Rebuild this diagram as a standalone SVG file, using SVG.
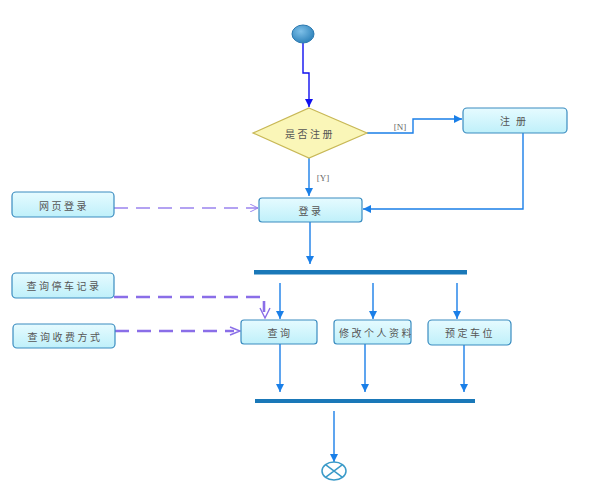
<svg xmlns="http://www.w3.org/2000/svg" width="590" height="493" viewBox="0 0 590 493">
<style>
.box{fill:url(#g);stroke:#3a8cc0;stroke-width:1.2}
.t{font-family:"Noto Sans CJK SC","Noto Sans",sans-serif;font-size:10px;letter-spacing:2.5px;fill:#555;text-anchor:middle;dominant-baseline:central}
.lbl{font-family:"Liberation Serif",serif;font-size:9px;fill:#666;text-anchor:middle}
.fl{fill:none;stroke:#1a7fe8;stroke-width:1.4}
.dash{fill:none;stroke:#9a84ee;stroke-width:1.6;stroke-dasharray:14,8}
.dash2{fill:none;stroke:#8a6ee8;stroke-width:2.6;stroke-dasharray:14,8}
.bar{fill:#1a78b8}
</style>
<defs>
<linearGradient id="g" x1="0" y1="0" x2="0" y2="1"><stop offset="0" stop-color="#e6fbff"/><stop offset="1" stop-color="#bff0fa"/></linearGradient>
<radialGradient id="sg" cx="0.4" cy="0.35" r="0.7"><stop offset="0" stop-color="#7ec0e8"/><stop offset="1" stop-color="#2a7fb8"/></radialGradient>
<marker id="a" viewBox="0 0 10 10" refX="10" refY="5" markerWidth="8" markerHeight="10" orient="auto" markerUnits="userSpaceOnUse"><path d="M0,0L10,5L0,10z" fill="#1a7fe8"/></marker>
<marker id="ab" viewBox="0 0 10 10" refX="10" refY="5" markerWidth="8" markerHeight="12" orient="auto" markerUnits="userSpaceOnUse"><path d="M0,0L10,5L0,10z" fill="#1010f0"/></marker>
<marker id="o" viewBox="0 0 10 10" refX="10" refY="5" markerWidth="12" markerHeight="8" orient="auto" markerUnits="userSpaceOnUse"><path d="M0,0L10,5L0,10" fill="none" stroke="#9a84ee" stroke-width="1.2"/></marker>
<clipPath id="c1"><rect x="334" y="320" width="77" height="24"/></clipPath>
</defs>
<g id="connectors">
<path d="M303,43V73H309V107" fill="none" stroke="#1010f0" stroke-width="1.4" marker-end="url(#ab)"/>
<path class="fl" d="M367,133H413V119H462" marker-end="url(#a)"/>
<text class="lbl" x="400" y="130">[N]</text>
<path class="fl" d="M309,158V196" marker-end="url(#a)"/>
<text class="lbl" x="323" y="181">[Y]</text>
<path class="fl" d="M523,133V209H363" marker-end="url(#a)"/>
<path class="dash" d="M114,208H258" marker-end="url(#o)"/>
<path class="fl" d="M310,222V264" marker-end="url(#a)"/>
<path class="fl" d="M280,283V319" marker-end="url(#a)"/>
<path class="fl" d="M373,283V319" marker-end="url(#a)"/>
<path class="fl" d="M457,283V319" marker-end="url(#a)"/>
<path class="dash2" d="M114,297H264V312"/>
<path d="M260,308L265,318L270,308" fill="none" stroke="#8a6ee8" stroke-width="1.4"/>
<path class="dash2" d="M115,331H234"/>
<path d="M230,327L240,331L230,335" fill="none" stroke="#8a6ee8" stroke-width="1.4"/>
<path class="fl" d="M280,344V392" marker-end="url(#a)"/>
<path class="fl" d="M365,344V392" marker-end="url(#a)"/>
<path class="fl" d="M464,345V392" marker-end="url(#a)"/>
<path class="fl" d="M334,411V462" marker-end="url(#a)"/>
</g>
<g id="start"><ellipse cx="303" cy="34" rx="11" ry="9" fill="url(#sg)" stroke="#2a78b0"/></g>
<g id="decision"><path d="M309,108L367,133L309,158L253,133Z" fill="#faf6b8" stroke="#c8b856" stroke-width="1.2"/><text class="t" x="310" y="133">是否注册</text></g>
<g id="register"><rect class="box" x="463" y="108" width="104" height="25" rx="4"/><text class="t" x="516" y="120" style="letter-spacing:6px">注册</text></g>
<g id="login"><rect class="box" x="259" y="198" width="103" height="24" rx="3"/><text class="t" x="311" y="210">登录</text></g>
<g id="weblogin"><rect class="box" x="12" y="192" width="102" height="25" rx="4"/><text class="t" x="64" y="205">网页登录</text></g>
<g id="fork"><rect class="bar" x="254" y="270" width="213" height="4.5"/></g>
<g id="qparking"><rect class="box" x="12" y="273" width="102" height="25" rx="4"/><text class="t" x="64" y="285">查询停车记录</text></g>
<g id="qfee"><rect class="box" x="13" y="324" width="102" height="24" rx="4"/><text class="t" x="65" y="336">查询收费方式</text></g>
<g id="query"><rect class="box" x="241" y="320" width="76" height="24" rx="3"/><text class="t" x="280" y="332">查询</text></g>
<g id="modify"><rect class="box" x="334" y="320" width="77" height="24" rx="3"/><text class="t" x="339" y="332" style="text-anchor:start" clip-path="url(#c1)">修改个人资料</text></g>
<g id="reserve"><rect class="box" x="428" y="320" width="83" height="25" rx="4"/><text class="t" x="470" y="332">预定车位</text></g>
<g id="join"><rect class="bar" x="255" y="399" width="220" height="4"/></g>
<g id="end"><ellipse cx="334" cy="471" rx="12" ry="9" fill="#fff" stroke="#3a9ac8" stroke-width="1.5"/><path d="M325.5,464.6L342.5,477.4M342.5,464.6L325.5,477.4" stroke="#3a9ac8" stroke-width="1.5"/></g>
</svg>
